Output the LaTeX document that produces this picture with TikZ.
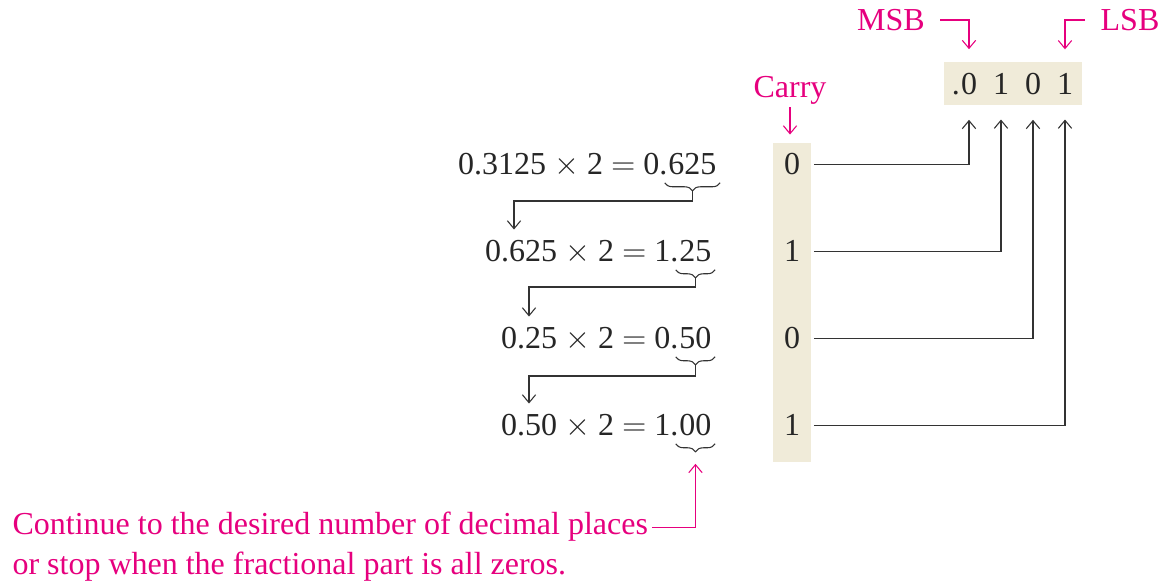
\documentclass[tikz,border=0pt]{standalone}
\usepackage{fontspec}
\setmainfont{Liberation Serif}
\usetikzlibrary{calc, positioning, arrows.meta, decorations.pathreplacing}
\definecolor{hotpink}{RGB}{230,0,126}
\definecolor{paper}{RGB}{240,235,217}

\begin{document}
\begin{tikzpicture}[
        x=0.375pt, y=-0.375pt,
        font=\fontsize{12}{14}\selectfont,
        >={Straight Barb[length=3pt,width=5pt]},
        txt/.style={inner sep=0pt, text=black!85},
        carrybit/.style={inner sep=5pt, text=black!85},
        pinktext/.style={inner sep=0pt, text=hotpink},
        brc/.style={decorate, decoration={brace, mirror, amplitude=3pt}, thin, black!80},
        wire/.style={->, thin, black!80},
        pinkwire/.style={->, thin, hotpink}
    ]

    \useasboundingbox (0,0) rectangle (1163,581);

    % multiplication rows
    \node[txt, anchor=base east] (f1) at (717,175) {625};
    \node[txt, anchor=base east] (r1) at (f1.base west) {0.3125 $\times$ 2 $=$ 0.};
    \node[txt, anchor=base east] (f2) at (712,262) {25};
    \node[txt, anchor=base east] (r2) at (f2.base west) {0.625 $\times$ 2 $=$ 1.};
    \node[txt, anchor=base east] (f3) at (712,349) {50};
    \node[txt, anchor=base east] (r3) at (f3.base west) {0.25 $\times$ 2 $=$ 0.};
    \node[txt, anchor=base east] (f4) at (712,436) {00};
    \node[txt, anchor=base east] (r4) at (f4.base west) {0.50 $\times$ 2 $=$ 1.};

    \foreach \i in {1,...,4} {
        \draw[brc] ([shift={(-1.2pt,-2.6pt)}]f\i.south west) -- ([shift={(1.2pt,-2.6pt)}]f\i.south east);
        \coordinate (t\i) at ($(f\i.south)+(0,15)$);
    }

    \coordinate (k1) at (514,201);
    \coordinate (k2) at (529,287);
    \coordinate (k3) at (529,376);
    \draw[wire, shorten >=4pt] (t1) |- (k1) -- (k1 |- r2.north);
    \draw[wire, shorten >=4pt] (t2) |- (k2) -- (k2 |- r3.north);
    \draw[wire, shorten >=4pt] (t3) |- (k3) -- (k3 |- r4.north);

    % carry column
    \fill[paper] (773,143) rectangle (811,462);
    \node[carrybit, anchor=base] (c1) at (792,175) {0};
    \node[carrybit, anchor=base] (c2) at (792,262) {1};
    \node[carrybit, anchor=base] (c3) at (792,349) {0};
    \node[carrybit, anchor=base] (c4) at (792,436) {1};

    % result
    \fill[paper] (944,62) rectangle (1082,105);
    \node[txt, anchor=base] (b1) at (969,95) {0};
    \node[txt, anchor=base east] (dot) at (b1.base west) {.};
    \node[txt, anchor=base] (b2) at (1001,95) {1};
    \node[txt, anchor=base] (b3) at (1033,95) {0};
    \node[txt, anchor=base] (b4) at (1065,95) {1};

    \draw[wire, shorten >=9pt] (c1.east) -| (b1.south);
    \draw[wire, shorten >=9pt] (c2.east) -| (b2.south);
    \draw[wire, shorten >=9pt] (c3.east) -| (b3.south);
    \draw[wire, shorten >=9pt] (c4.east) -| (b4.south);

    % labels
    \node[pinktext] (msb) at (891,20) {MSB};
    \node[pinktext] (lsb) at (1130,20) {LSB};
    \node[pinktext] (carry) at (790,90) {Carry};

    \draw[pinkwire, shorten <=5.6pt, shorten >=9pt] (msb.east) -| (b1.north);
    \draw[pinkwire, shorten <=5.6pt, shorten >=9pt] (lsb.west) -| (b4.north);
    \draw[pinkwire, shorten <=1pt, shorten >=2pt] (carry.south) -- (carry.south |- c1.north);

    \node[pinktext, anchor=base west] (note1) at (12,535) {Continue to the desired number of decimal places};
    \node[pinktext, anchor=base west] (note2) at (12,575) {or stop when the fractional part is all zeros.};
    \draw[pinkwire, shorten <=1.5pt, shorten >=4.5pt] (note1.east) -| (t4);

\end{tikzpicture}
\end{document}
